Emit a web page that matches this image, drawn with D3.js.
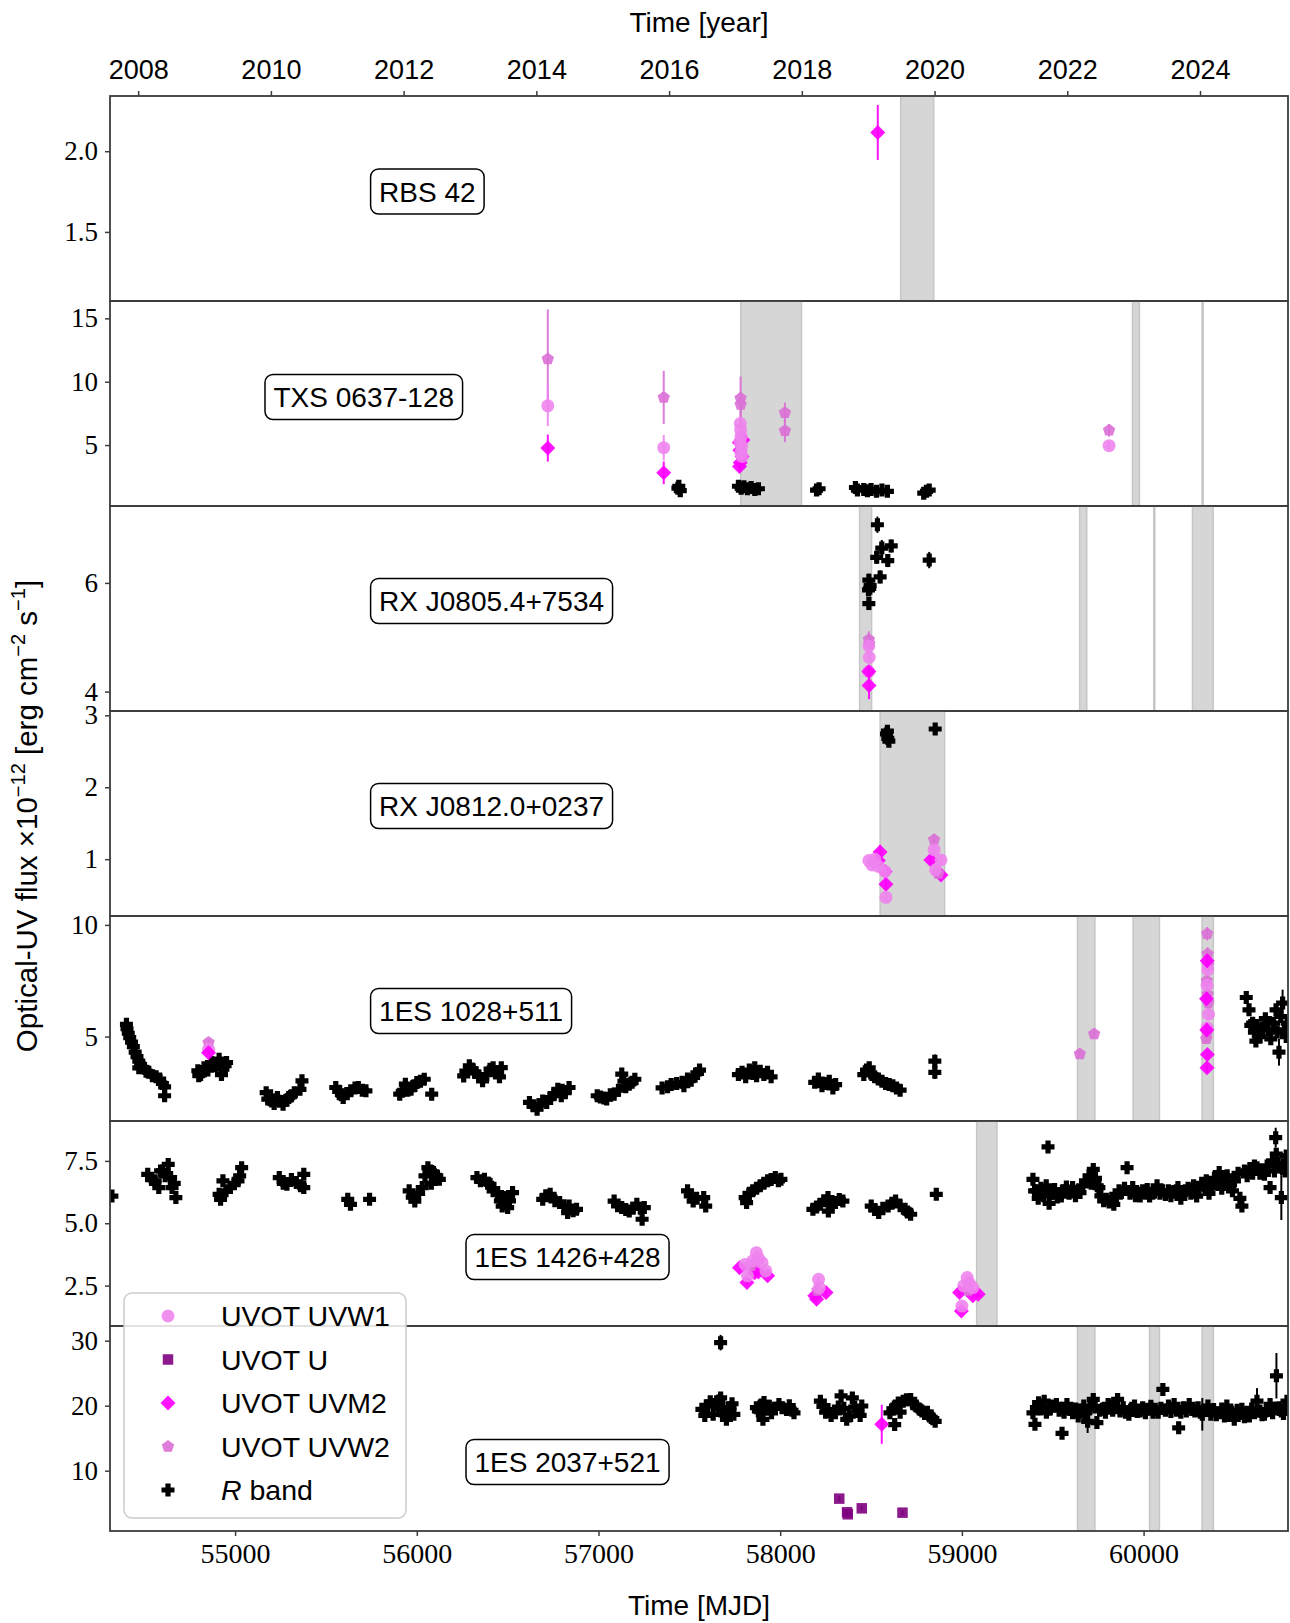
<!DOCTYPE html>
<html><head><meta charset="utf-8">
<script src="https://cdn.jsdelivr.net/npm/d3@7/dist/d3.min.js"></script>
<style>body{margin:0;background:#fff}svg{display:block}</style>
</head><body><svg id="c" width="1290" height="1623"></svg>
<script>
// ---------------- DATA (MJD, flux x1e-12, error) ----------------
const panelNames = ["RBS 42","TXS 0637-128","RX J0805.4+7534","RX J0812.0+0237","1ES 1028+511","1ES 1426+428","1ES 2037+521"];
const yTicks1 = [1.5, 2.0];
const yTicks2 = [5, 10, 15];
const yTicks3 = [4, 6];
const yTicks4 = [1, 2, 3];
const yTicks5 = [5, 10];
const yTicks6 = [2.5, 5.0, 7.5];
const yTicks7 = [10, 20, 30];
const mjdTicks = [55000, 56000, 57000, 58000, 59000, 60000];
const yearTicks = [2008, 2010, 2012, 2014, 2016, 2018, 2020, 2022, 2024];
const legendLabels = ["UVOT UVW1", "UVOT U", "UVOT UVM2", "UVOT UVW2", "R band"];

// grey shaded periods per panel [start, end] MJD
const bands1 = [[58663, 58845]];
const bands2 = [[57783, 58117], [59939, 59977], [60322, 60324]];
const bands3 = [[58437, 58503], [59648, 59687], [60056, 60058], [60269, 60383]];
const bands4 = [[58550, 58905]];
const bands5 = [[59636, 59732], [59942, 60087], [60322, 60384]];
const bands6 = [[59081, 59193]];
const bands7 = [[59636, 59732], [60033, 60087], [60322, 60384]];

// RBS 42
const rbs42_UVM2 = [[58537, 2.116, 0.17]];

// TXS 0637-128
const txs_R = [[57437,1.6],[57450,1.4],[57442,1.75],[57770,1.75],[57785,1.6],[57800,1.7],[57820,1.55],[57840,1.65],[57860,1.5],[57880,1.55],
 [58214,1.55],[58200,1.45],[58414,1.65],[58425,1.45],[58460,1.5],[58480,1.4],[58500,1.5],[58530,1.35],[58560,1.45],[58590,1.35],[58790,1.2],[58805,1.35],[58820,1.45]];
const txs_UVW1 = [[56721,8.1,1.6],[57359,4.79,1.0],[57780,6.7,0.5],[57782,6.2,0.5],[57785,5.7,0.5],[57779,5.3,0.5],[57788,4.9,0.5],[57783,4.4,0.4],[57790,4.1,0.4],[59810,4.95,0.3]];
const txs_UVM2 = [[56721,4.76,1.07],[57359,2.81,0.9],[57775,5.2,0.4],[57795,5.4,0.4],[57778,4.6,0.4],[57790,4.1,0.4],[57780,3.6,0.4],[57776,3.3,0.4]];
const txs_UVW2 = [[56721,11.8,3.9],[57359,8.76,2.1],[57782,8.7,1.7],[57782,8.2,1.0],[58026,7.55,0.8],[58026,6.13,0.9],[59810,6.16,0.5]];

// RX J0805.4+7534
const j0805_R = [[58535,7.07,0.15],[58559,6.64,0.15],[58611,6.68,0.12],[58531,6.47,0.12],[58592,6.41,0.12],[58550,6.11,0.12],[58488,6.05,0.12],
 [58493,5.90,0.1],[58486,5.87,0.1],[58495,5.95,0.1],[58488,5.62,0.12],[58820,6.42,0.15]];
const j0805_UVW1 = [[58488,4.84,0.1],[58490,4.63,0.1],[58487,4.37,0.1]];
const j0805_UVM2 = [[58488,4.37,0.1],[58489,4.11,0.25]];
const j0805_UVW2 = [[58488,4.96,0.15],[58490,4.88,0.15]];

// RX J0812.0+0237
const j0812_R = [[58585,2.74,0.06],[58592,2.68,0.06],[58598,2.64,0.06],[58590,2.78,0.05],[58853,2.81,0.08]];
const j0812_UVW1 = [[58488,0.98,0.06],[58520,1.0,0.06],[58540,0.90,0.06],[58505,0.92,0.06],[58577,0.83,0.06],[58582,0.47,0.06],[58847,1.13,0.08],[58885,0.99,0.06],[58855,0.85,0.06]];
const j0812_UVM2 = [[58550,1.10,0.1],[58582,0.65,0.08],[58540,0.98,0.08],[58577,0.83,0.06],[58829,0.99,0.08],[58885,0.78,0.06]];
const j0812_UVW2 = [[58520,0.95,0.06],[58847,1.27,0.08],[58870,0.8,0.06]];

// 1ES 1028+511
const es1028_R = [
 [54402,5.55],[54405,5.35],[54412,5.15],[54420,4.95],[54430,4.75],[54440,4.55],[54450,4.3],[54460,4.1],[54470,3.9],[54480,3.75],[54495,3.6],[54510,3.45],[54525,3.4],[54545,3.25],[54565,3.2],[54585,3.1],[54600,2.9],[54612,2.75],[54612,2.35],[54470,3.6],
 [54795,3.47],[54810,3.3],[54829,3.61],[54850,3.5],[54870,3.84],[54890,3.7],[54912,3.99],[54925,3.3],[54933,3.54],[54953,3.84],[54945,3.7],[54800,3.25],
 [55171,2.49],[55180,2.2],[55195,2.35],[55202,2.12],[55215,2.0],[55233,2.27],[55245,2.1],[55264,1.97],[55280,2.15],[55295,2.27],[55310,2.35],[55326,2.49],[55357,2.64],[55368,3.02],
 [55554,2.72],[55570,2.55],[55585,2.4],[55595,2.27],[55615,2.45],[55637,2.57],[55660,2.7],[55678,2.72],[55700,2.6],[55720,2.57],
 [55906,2.42],[55920,2.55],[55937,2.87],[55950,2.6],[55968,2.64],[55985,2.8],[56000,2.94],[56020,3.0],[56041,3.09],[56082,2.42],
 [56258,3.24],[56270,3.45],[56289,3.69],[56305,3.55],[56320,3.39],[56340,3.25],[56362,3.02],[56385,3.3],[56403,3.54],[56420,3.6],[56445,3.39],[56465,3.61],[56455,3.2],
 [56620,2.05],[56640,1.9],[56662,1.75],[56680,1.95],[56693,2.12],[56715,2.05],[56734,2.27],[56755,2.4],[56776,2.64],[56795,2.35],[56817,2.49],[56838,2.72],[56800,2.6],
 [56993,2.35],[57010,2.3],[57030,2.25],[57045,2.20],[57065,2.4],[57086,2.42],[57110,2.6],[57128,3.32],[57140,3.0],[57150,2.75],[57169,2.87],[57185,2.95],[57200,3.09],
 [57350,2.7],[57380,2.75],[57400,2.85],[57430,2.9],[57460,2.95],[57490,3.1],[57520,3.2],[57545,3.35],[57556,3.5],[57470,2.8],[57510,3.05],
 [57770,3.3],[57790,3.4],[57810,3.2],[57830,3.5],[57850,3.35],[57870,3.25],[57890,3.45],[57910,3.3],[57930,3.4],[57950,3.2],[57860,3.6],
 [58190,2.95],[58210,3.1],[58230,2.8],[58250,2.9],[58270,3.0],[58290,2.7],[58305,2.85],
 [58460,3.3],[58475,3.5],[58490,3.6],[58505,3.3],[58520,3.2],[58540,3.1],[58560,3.0],[58580,2.9],[58600,2.85],[58620,2.8],[58640,2.7],[58660,2.6],
 [58851,3.4,0.3],[58851,3.9,0.3],
 [60565,6.75,0.2],[60580,6.2],[60590,5.5],[60600,5.6],[60610,5.2],[60618,4.8],[60625,5.5],[60640,5.0],[60655,5.4],[60670,5.8],[60685,5.3],[60700,4.9],[60715,5.6],[60729,6.2],[60735,5.2],[60745,4.3,0.6],[60755,5.9],[60765,6.5,0.6],[60775,5.3],[60785,5.0],[60790,5.6]];
const es1028_UVW1 = [[54854,4.43,0.1],[60353,8.0,0.2],[60349,7.3,0.2],[60357,6.0,0.2],[60350,5.4,0.2]];
const es1028_UVM2 = [[54854,4.28,0.1],[60350,8.4,0.3],[60346,6.7,0.3],[60348,5.3,0.3],[60351,4.2,0.2],[60349,3.6,0.2]];
const es1028_UVW2 = [[54854,4.73,0.15],[59649,4.22,0.1],[59728,5.12,0.1],[60350,9.6,0.3],[60352,8.7,0.3],[60355,8.2,0.3],[60348,7.5,0.3],[60352,6.9,0.3],[60356,6.5,0.3],[60350,5.2,0.2],[60345,4.9,0.2]];

// 1ES 1426+428
const es1426_R = [
 [54322,6.09],
 [54519,6.96],[54540,6.75],[54560,6.70],[54580,6.43],[54601,7.10],[54615,6.9],[54632,7.36],[54645,6.83],[54653,6.43],[54674,6.03],[54665,6.6],[54590,7.1],
 [54912,6.16],[54920,5.96],[54933,6.70],[54950,6.3],[54974,6.43],[54995,6.6],[55016,6.70],[55036,7.23],[55025,6.9],
 [55243,6.83],[55265,6.6],[55285,6.56],[55310,6.75],[55337,6.63],[55360,6.5],[55378,6.96],[55378,6.43],
 [55620,5.96],[55635,5.76],[55740,5.96],
 [55958,6.30],[55975,6.05],[55989,5.89],[56010,6.2],[56030,6.43],[56045,6.9],[56061,7.23],[56075,7.1],[56092,7.03],[56110,6.9],[56124,6.76],[56080,6.6],
 [56331,6.83],[56350,6.7],[56372,6.76],[56390,6.6],[56403,6.56],[56420,6.3],[56445,6.23],[56460,5.9],[56470,5.69],[56486,6.03],[56500,5.63],[56510,5.9],[56527,6.23],
 [56693,5.96],[56710,6.1],[56734,6.16],[56760,5.9],[56786,5.83],[56810,5.7],[56838,5.69],[56860,5.5],[56879,5.56],[56830,5.43],
 [57086,5.89],[57105,5.7],[57128,5.63],[57150,5.55],[57169,5.49],[57190,5.6],[57211,5.76],[57230,5.6],[57252,5.63],[57240,5.16],
 [57490,6.30],[57505,6.1],[57521,5.89],[57540,6.0],[57579,6.03],[57590,5.69],
 [57807,6.03],[57815,5.83],[57830,6.2],[57849,6.30],[57870,6.4],[57890,6.50],[57910,6.6],[57931,6.70],[57950,6.75],[57973,6.83],[57990,6.7],[58004,6.76],
 [58180,5.56],[58200,5.65],[58221,5.76],[58240,5.9],[58263,6.03],[58280,5.8],[58304,5.83],[58325,5.95],[58345,5.89],[58265,5.49],
 [58501,5.69],[58520,5.55],[58542,5.43],[58565,5.6],[58594,5.69],[58615,5.8],[58635,5.89],[58660,5.7],[58687,5.56],[58700,5.45],[58718,5.36],
 [58859,6.16],
 [59391,6.76],[59400,6.3],[59412,6.30],[59420,6.0],[59435,6.4],[59450,6.1],[59464,6.50],[59474,8.06],[59480,5.8],[59495,6.2],[59510,6.35],[59525,6.05],[59547,6.09],[59560,6.3],[59575,6.45],[59590,6.2],[59609,6.43],[59625,6.1],[59640,6.3],[59650,6.23],
 [59665,6.5],[59680,6.7],[59700,6.9],[59712,6.6],[59723,7.16],[59735,6.8],[59745,6.5],[59754,6.43],[59765,6.1],[59780,5.9],[59795,5.96],[59810,5.85],[59825,6.0],[59836,5.76],[59850,6.05],[59865,6.3],[59878,6.23],[59895,6.4],[59909,7.23],
 [59925,6.2],[59940,6.43],[59955,6.1],[59970,6.2],[59981,6.09],[59995,6.3],[60010,6.2],[60020,6.35],[60033,6.09],[60050,6.2],[60060,6.25],[60074,6.50],[60090,6.2],[60105,6.3],[60120,6.15],[60137,6.30],[60150,6.1],[60165,6.25],[60180,6.3],[60189,6.43],
 [60205,6.0],[60218,6.2],[60230,6.30],[60245,6.4],[60260,6.2],[60275,6.5],[60292,6.09],[60305,6.4],[60320,6.6],[60334,6.50],[60345,6.7],[60360,6.2],[60375,6.43],[60390,6.8],[60405,6.6],[60416,7.03],[60430,6.4],[60447,6.70],[60460,6.9],[60475,6.5],
 [60489,6.30],[60500,6.7],[60520,7.0],[60530,6.0],[60541,5.69],[60555,7.1],[60570,6.9],[60585,7.2],[60600,7.0],[60610,7.3],[60624,7.23],[60640,7.0],[60650,7.1],[60665,6.96],[60680,7.3],[60696,6.43],[60710,7.5],[60720,7.1],[60727,8.43,0.4],[60730,7.77],
 [60740,7.4],[60758,6.03,0.9],[60765,7.2],[60779,7.1],[60785,7.7],[60790,7.5]];
const es1426_UVW1 = [[57869,3.82,0.1],[57807,3.35,0.1],[57900,3.42,0.1],[57921,3.09,0.1],[57820,2.89,0.1],[57849,3.49,0.1],[57880,3.6,0.1],[58211,2.75,0.1],[58215,2.42,0.1],[59029,2.82,0.1],[59010,2.49,0.1],[59060,2.42,0.1],[59000,1.68,0.1],[59040,2.6,0.1]];
const es1426_UVM2 = [[57776,3.22,0.1],[57817,2.62,0.1],[57859,3.02,0.1],[57931,2.89,0.1],[57880,3.05,0.1],[58190,2.09,0.1],[58252,2.22,0.1],[58200,1.95,0.1],[58987,2.22,0.1],[59060,2.09,0.1],[58997,1.48,0.1],[59090,2.15,0.1]];
const es1426_UVW2 = [[57840,3.3,0.1],[58205,2.3,0.1],[59035,2.3,0.1]];

// 1ES 2037+521
const es2037_R = [
 [57672,29.7,1.2],
 [57569,19.44],[57585,18.5],[57600,19.95],[57615,20.6],[57631,18.67],[57640,20.2],[57662,20.72],[57672,21.2],[57683,19.44],[57694,18.6],[57704,17.9],[57714,19.0],[57724,19.7],[57735,20.3],[57745,18.67],
 [57869,19.7],[57880,19.2],[57895,20.1],[57911,20.5],[57925,19.5],[57940,19.9],[57952,18.9],[57970,19.6],[57993,20.2],[58010,19.7],[58035,19.4],[58050,20.0],[58065,19.3],[58076,18.9],[57905,17.9],
 [58221,20.7],[58235,19.9],[58250,19.0],[58263,19.4],[58280,18.5],[58304,18.9],[58320,19.8],[58335,21.5],[58350,19.6],[58366,17.9],[58380,18.4],[58397,21.2],[58410,19.8],[58428,19.2],[58440,18.5],[58449,19.95],
 [58604,18.9],[58620,19.5],[58635,19.95],[58650,20.4],[58660,19.0],[58677,20.7],[58695,20.9],[58718,20.97],[58730,20.3],[58749,19.95],[58765,19.5],[58780,19.2],[58795,18.8],[58810,19.0],[58822,18.4],[58840,18.0],[58853,17.6],[58630,17.1],
 [59391,18.9],[59402,17.13],[59410,19.7],[59422,20.46],[59435,19.5],[59453,20.7],[59465,19.0],[59484,19.44],[59500,19.95],[59520,20.2],[59535,19.3],[59551,15.75],[59562,19.0],[59578,20.2],[59595,19.4],[59609,18.9],[59625,19.5],[59640,18.4],[59655,19.3],[59671,19.95],
 [59680,18.9],[59692,17.6,1.8],[59705,19.6],[59723,20.97],[59733,19.8],[59743,17.4],[59758,19.3],[59774,19.44],[59790,19.0],[59805,20.2],[59816,19.95],[59830,19.3],[59845,19.7],[59857,20.97],[59870,19.2],[59888,19.7],[59900,19.0],[59919,18.67],[59935,19.6],[59950,19.95],
 [59965,19.1],[59981,19.2],[59995,19.7],[60010,18.9],[60023,19.44],[60040,19.9],[60052,19.0],[60064,19.44],[60080,19.0],[60095,19.6],[60106,22.5],[60120,19.3],[60137,19.95],[60150,19.1],[60168,20.2],[60180,19.3],[60193,16.6],[60205,19.0],[60220,19.7],[60235,19.2],
 [60251,20.2],[60265,19.4],[60282,19.2],[60300,19.7],[60312,19.0],[60323,18.67,2.5],[60340,19.3],[60354,19.95],[60370,18.7],[60385,19.4],[60400,18.6],[60416,18.9],[60430,19.5],[60445,18.4],[60458,19.95],[60470,18.5],[60485,19.0],[60499,17.9],[60515,19.3],[60530,18.8],
 [60541,19.44],[60555,18.3],[60570,19.0],[60582,18.4],[60595,19.5],[60610,18.9],[60624,20.7,2.0],[60640,19.2],[60652,18.6],[60665,18.67],[60680,19.4],[60696,20.2],[60710,18.9],[60720,19.6],[60731,24.6,3.5],[60745,19.7],[60758,19.2],[60770,18.8],[60780,19.9],[60789,20.7]];
const es2037_U = [[58325,5.7,0.4],[58372,3.29,0.5],[58368,3.6,0.4],[58449,4.21,0.4],[58673,3.54,0.4]];
const es2037_UVM2 = [[58559,17.13,3.0]];

// ---------------- LAYOUT ----------------
const svg = d3.select('#c');
const X0 = 110, X1 = 1288, TOP = 96, PH = 205;
const x = d3.scaleLinear().domain([54311.5, 60794.7]).range([X0, X1]);
const SANS = "'Liberation Sans', Arial, sans-serif";
const SERIF = "'Liberation Serif', 'Times New Roman', serif";
const AX = '#3c3c3c';
const yearToMJD = yr => 51544.5 + (yr - 2000) * 365.25;

const STYLE = {
  R:    {color:'#000000', shape:'plus',     size:13,   op:1},
  UVW1: {color:'#EE82EE', shape:'circle',   size:13,   op:0.88},
  U:    {color:'#800080', shape:'square',   size:10.5, op:0.9},
  UVM2: {color:'#FF00FF', shape:'diamond',  size:15,   op:0.92},
  UVW2: {color:'#DA70D6', shape:'pentagon', size:13,   op:0.9}
};
function shapePath(shape, s) {
  const h = s / 2;
  if (shape === 'plus') { const a = s / 5;
    return `M${-a},${-h}L${a},${-h}L${a},${-a}L${h},${-a}L${h},${a}L${a},${a}L${a},${h}L${-a},${h}L${-a},${a}L${-h},${a}L${-h},${-a}L${-a},${-a}Z`; }
  if (shape === 'circle') return `M${h},0A${h},${h} 0 1,1 ${-h},0A${h},${h} 0 1,1 ${h},0Z`;
  if (shape === 'square') return `M${-h},${-h}H${h}V${h}H${-h}Z`;
  if (shape === 'diamond') return `M0,${-h}L${h},0L0,${h}L${-h},0Z`;
  if (shape === 'pentagon') { let p = '';
    for (let k = 0; k < 5; k++) { const an = (-90 + 72 * k) * Math.PI / 180; p += (k ? 'L' : 'M') + (h * Math.cos(an)).toFixed(2) + ',' + (h * Math.sin(an)).toFixed(2); }
    return p + 'Z'; }
}

const panels = [
  {dom:[1.072, 2.342], ticks:yTicks1, fmt:'.1f', bands:bands1, series:[[rbs42_UVM2,'UVM2']], box:[370.6, 191.5]},
  {dom:[0.19, 16.37], ticks:yTicks2, fmt:'d', bands:bands2, series:[[txs_R,'R'],[txs_UVM2,'UVM2'],[txs_UVW2,'UVW2'],[txs_UVW1,'UVW1']], box:[265, 397]},
  {dom:[3.643, 7.415], ticks:yTicks3, fmt:'d', bands:bands3, series:[[j0805_R,'R'],[j0805_UVW2,'UVW2'],[j0805_UVW1,'UVW1'],[j0805_UVM2,'UVM2']], box:[370.6, 601]},
  {dom:[0.21, 3.06], ticks:yTicks4, fmt:'d', bands:bands4, series:[[j0812_R,'R'],[j0812_UVM2,'UVM2'],[j0812_UVW2,'UVW2'],[j0812_UVW1,'UVW1']], box:[370.6, 806]},
  {dom:[1.22, 10.4], ticks:yTicks5, fmt:'d', bands:bands5, series:[[es1028_R,'R'],[es1028_UVW2,'UVW2'],[es1028_UVW1,'UVW1'],[es1028_UVM2,'UVM2']], box:[370.6, 1011]},
  {dom:[0.88, 9.1], ticks:yTicks6, fmt:'.1f', bands:bands6, series:[[es1426_R,'R'],[es1426_UVM2,'UVM2'],[es1426_UVW2,'UVW2'],[es1426_UVW1,'UVW1']], box:[466, 1257]},
  {dom:[0.72, 32.26], ticks:yTicks7, fmt:'d', bands:bands7, series:[[es2037_R,'R'],[es2037_U,'U'],[es2037_UVM2,'UVM2']], box:[466, 1462]}
];

const defs = svg.append('defs');
panels.forEach((p, i) => {
  const top = TOP + i * PH;
  const y = d3.scaleLinear().domain(p.dom).range([top + PH, top]);
  defs.append('clipPath').attr('id', 'clip' + i).append('rect')
    .attr('x', X0).attr('y', top).attr('width', X1 - X0).attr('height', PH);
  const g = svg.append('g').attr('clip-path', `url(#clip${i})`);
  g.selectAll('rect.band').data(p.bands).join('rect').attr('class', 'band')
    .attr('x', d => x(d[0])).attr('width', d => Math.max(1, x(d[1]) - x(d[0])))
    .attr('y', top).attr('height', PH)
    .attr('fill', '#d6d6d6').attr('stroke', '#c6c6c6').attr('stroke-width', 1.5);
  p.series.forEach(([data, key]) => {
    const st = STYLE[key];
    const sg = g.append('g');
    sg.selectAll('line').data(data.filter(d => d[2] !== undefined)).join('line')
      .attr('x1', d => x(d[0])).attr('x2', d => x(d[0]))
      .attr('y1', d => y(d[1] - d[2])).attr('y2', d => y(d[1] + d[2]))
      .attr('stroke', st.color).attr('stroke-width', 2).attr('opacity', st.op);
    sg.selectAll('path').data(data).join('path')
      .attr('d', shapePath(st.shape, st.size))
      .attr('transform', d => `translate(${x(d[0])},${y(d[1])})`)
      .attr('fill', st.color).attr('fill-opacity', st.op);
  });
  const ya = svg.append('g').attr('transform', `translate(${X0},0)`)
    .call(d3.axisLeft(y).tickValues(p.ticks).tickFormat(d3.format(p.fmt)).tickSize(5).tickPadding(7).tickSizeOuter(0));
  ya.select('.domain').remove();
  ya.selectAll('line').attr('stroke', AX).attr('stroke-width', 1.5);
  ya.selectAll('text').attr('font-family', SERIF).attr('font-size', 27).attr('fill', '#000');
  svg.append('rect').attr('x', X0).attr('y', top).attr('width', X1 - X0).attr('height', PH)
    .attr('fill', 'none').attr('stroke', AX).attr('stroke-width', 1.8);
  const bx = svg.append('g');
  const t = bx.append('text').attr('x', p.box[0] + 8.5).attr('y', p.box[1]).attr('dy', '0.36em')
    .attr('font-family', SANS).attr('font-size', 28).attr('fill', '#000').text(panelNames[i]);
  const w = t.node().getComputedTextLength();
  bx.insert('rect', 'text').attr('x', p.box[0]).attr('y', p.box[1] - 22.5).attr('width', w + 17).attr('height', 45)
    .attr('rx', 8).attr('fill', '#fff').attr('stroke', '#000').attr('stroke-width', 1.5);
});

const yt = svg.append('g').attr('transform', `translate(0,${TOP})`)
  .call(d3.axisTop(x).tickValues(yearTicks.map(yearToMJD)).tickFormat((d, i) => yearTicks[i]).tickSize(5).tickPadding(12).tickSizeOuter(0));
yt.select('.domain').remove();
yt.selectAll('line').attr('stroke', AX).attr('stroke-width', 1.5);
yt.selectAll('text').attr('font-family', SANS).attr('font-size', 27).attr('fill', '#000');

const bottom = TOP + 7 * PH;
const xb = svg.append('g').attr('transform', `translate(0,${bottom})`)
  .call(d3.axisBottom(x).tickValues(mjdTicks).tickFormat(d3.format('d')).tickSize(5).tickPadding(7).tickSizeOuter(0));
xb.select('.domain').remove();
xb.selectAll('line').attr('stroke', AX).attr('stroke-width', 1.5);
xb.selectAll('text').attr('font-family', SERIF).attr('font-size', 28).attr('fill', '#000');

svg.append('text').attr('x', (X0 + X1) / 2).attr('y', 32).attr('text-anchor', 'middle')
  .attr('font-family', SANS).attr('font-size', 28).text('Time [year]');
svg.append('text').attr('x', (X0 + X1) / 2).attr('y', 1615).attr('text-anchor', 'middle')
  .attr('font-family', SANS).attr('font-size', 28).text('Time [MJD]');
const yl = svg.append('text').attr('transform', 'translate(37,816) rotate(-90)').attr('text-anchor', 'middle')
  .attr('font-family', SANS).attr('font-size', 29.5);
yl.append('tspan').text('Optical-UV flux \u00d710');
yl.append('tspan').attr('font-size', 20).attr('dy', -12).text('\u221212');
yl.append('tspan').attr('dy', 12).text(' [erg cm');
yl.append('tspan').attr('font-size', 20).attr('dy', -12).text('\u22122');
yl.append('tspan').attr('dy', 12).text(' s');
yl.append('tspan').attr('font-size', 20).attr('dy', -12).text('\u22121');
yl.append('tspan').attr('dy', 12).text(']');

const lg = svg.append('g');
lg.append('rect').attr('x', 124).attr('y', 1293).attr('width', 282).attr('height', 225).attr('rx', 8)
  .attr('fill', '#fff').attr('fill-opacity', 0.85).attr('stroke', '#cccccc').attr('stroke-width', 1.5);
const legKeys = ['UVW1', 'U', 'UVM2', 'UVW2', 'R'];
legKeys.forEach((k, i) => {
  const yy = 1316 + i * 43.5;
  const st = STYLE[k];
  lg.append('path').attr('d', shapePath(st.shape, st.size)).attr('transform', `translate(168,${yy})`)
    .attr('fill', st.color).attr('fill-opacity', st.op);
  const tx = lg.append('text').attr('x', 221).attr('y', yy).attr('dy', '0.36em')
    .attr('font-family', SANS).attr('font-size', 28.5).attr('fill', '#000');
  if (k === 'R') {
    tx.append('tspan').attr('font-style', 'italic').text('R');
    tx.append('tspan').text(' band');
  } else tx.text(legendLabels[i]);
});
</script>
</body></html>
